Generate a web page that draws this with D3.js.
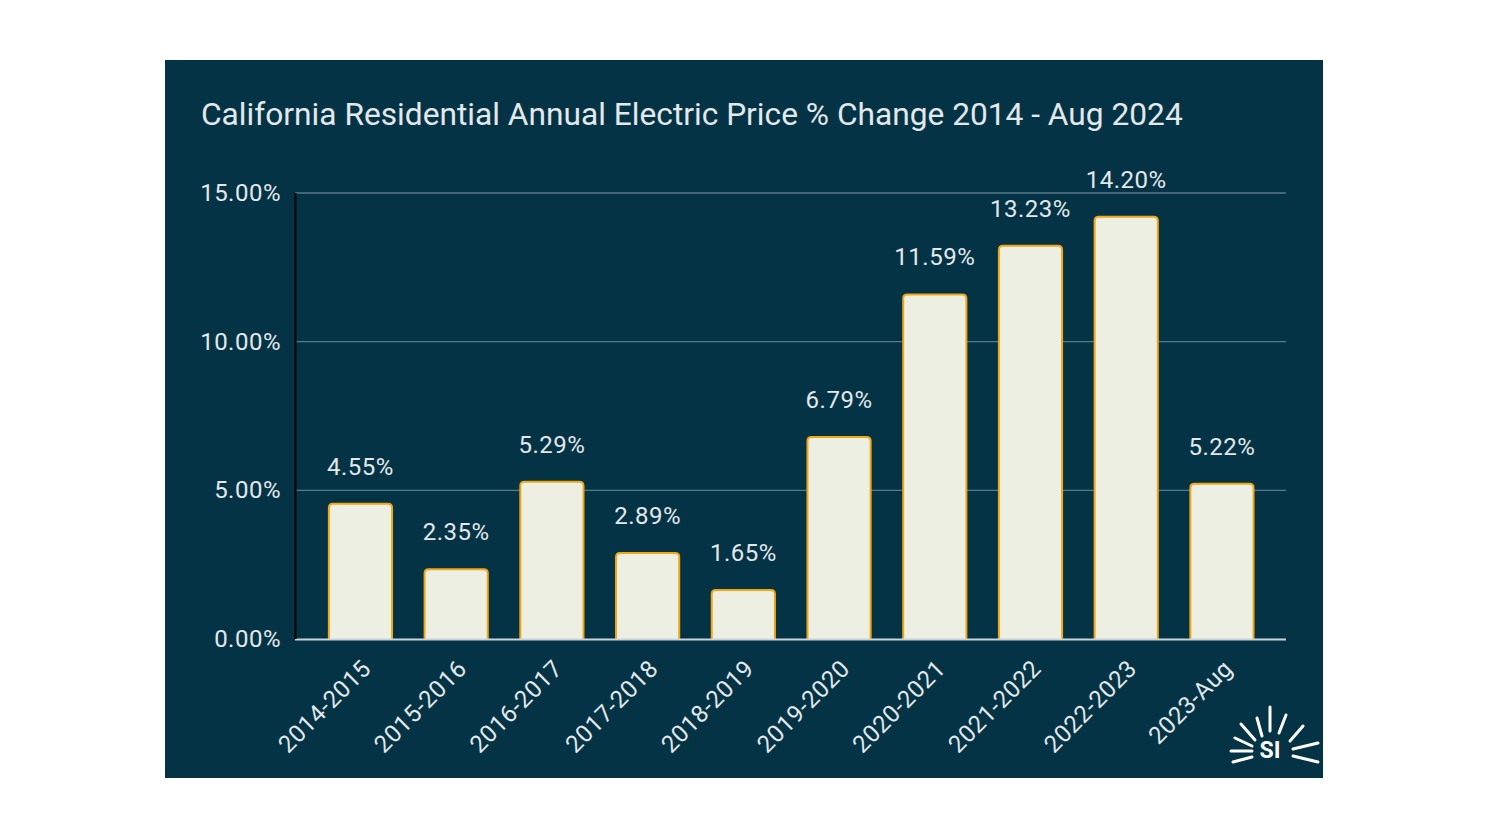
<!DOCTYPE html>
<html><head><meta charset="utf-8">
<script src="https://cdn.jsdelivr.net/npm/d3@7"></script>
<style>html,body{margin:0;padding:0;background:#fff;}svg{display:block;}</style>
</head><body>
<script>
const categories = ["2014-2015","2015-2016","2016-2017","2017-2018","2018-2019","2019-2020","2020-2021","2021-2022","2022-2023","2023-Aug"];
const values = [4.55, 2.35, 5.29, 2.89, 1.65, 6.79, 11.59, 13.23, 14.20, 5.22];
const yTicks = [0, 5, 10, 15];
const title = "California Residential Annual Electric Price % Change 2014 - Aug 2024";

const W = 1488, H = 837;
const svg = d3.select("body").append("svg").attr("width", W).attr("height", H);
const font = "Roboto, 'Liberation Sans', Arial, sans-serif";
const txt = "#e3e8ea";

svg.append("rect").attr("x",165).attr("y",60).attr("width",1158).attr("height",718).attr("fill","#043345");

svg.append("text").attr("x",201).attr("y",125).attr("fill",txt)
  .attr("font-family",font).attr("font-size",31.7).text(title);

const x = d3.scaleBand().domain(categories).range([312.6, 1269.8]).paddingInner(0.34).paddingOuter(0.17);
const y = d3.scaleLinear().domain([0, 15]).range([639, 193]);

const g = svg.append("g");
g.selectAll("line.grid").data(yTicks.filter(d=>d>0)).join("line")
  .attr("x1",295).attr("x2",1286).attr("y1",d=>y(d)).attr("y2",d=>y(d))
  .attr("stroke","#57798a").attr("stroke-width",1.3);

g.selectAll("text.yl").data(yTicks).join("text")
  .attr("x",281).attr("y",d=>y(d)+8).attr("text-anchor","end")
  .attr("fill",txt).attr("font-family",font).attr("font-size",24).attr("letter-spacing",0.5)
  .text(d=>d3.format(".2f")(d)+"%");

const bw = x.bandwidth();
g.selectAll("path.bar").data(values).join("path")
  .attr("d",(d,i)=>{
    const x0 = x(categories[i]), x1 = x0 + bw, yt = y(d), yb = y(0), r = 4;
    return `M${x0},${yb}L${x0},${yt+r}Q${x0},${yt} ${x0+r},${yt}L${x1-r},${yt}Q${x1},${yt} ${x1},${yt+r}L${x1},${yb}`;
  })
  .attr("fill","#eeefe3").attr("stroke","#f2a614").attr("stroke-width",2);

g.selectAll("text.vl").data(values).join("text")
  .attr("x",(d,i)=>x(categories[i])+bw/2).attr("y",d=>y(d)-29)
  .attr("text-anchor","middle").attr("fill",txt).attr("font-family",font).attr("font-size",24).attr("letter-spacing",0.5)
  .text(d=>d3.format(".2f")(d)+"%");

g.append("line").attr("x1",295).attr("x2",1286).attr("y1",639.5).attr("y2",639.5).attr("stroke","#c9d4d9").attr("stroke-width",2);
g.append("line").attr("x1",295.5).attr("x2",295.5).attr("y1",193).attr("y2",639).attr("stroke","#000").attr("stroke-width",2);

g.selectAll("text.xl").data(categories).join("text")
  .attr("transform",d=>`translate(${x(d)+bw/2+12},${670}) rotate(-45)`)
  .attr("text-anchor","end").attr("fill",txt).attr("font-family",font).attr("font-size",24).attr("letter-spacing",0.5)
  .text(d=>d);

// logo (decoration)
const logoRays = [
  [1270,707,1270,731],[1279,733,1286,715],[1290,741,1303,726],[1293,749,1318,743],[1293,756,1318,762],
  [1262,736,1257,718],[1255,740,1241,724],[1252,746,1235,738],[1252,751,1231,751],[1252,757,1233,762]
];
const logo = svg.append("g");
logo.selectAll("line").data(logoRays).join("line")
  .attr("x1",d=>d[0]).attr("y1",d=>d[1]).attr("x2",d=>d[2]).attr("y2",d=>d[3])
  .attr("stroke","#fff").attr("stroke-width",3).attr("stroke-linecap","round");
logo.append("text").attr("x",1270).attr("y",758).attr("text-anchor","middle").attr("fill","#fff")
  .attr("font-family",font).attr("font-weight","bold").attr("font-size",23).text("SI");
</script>
</body></html>
